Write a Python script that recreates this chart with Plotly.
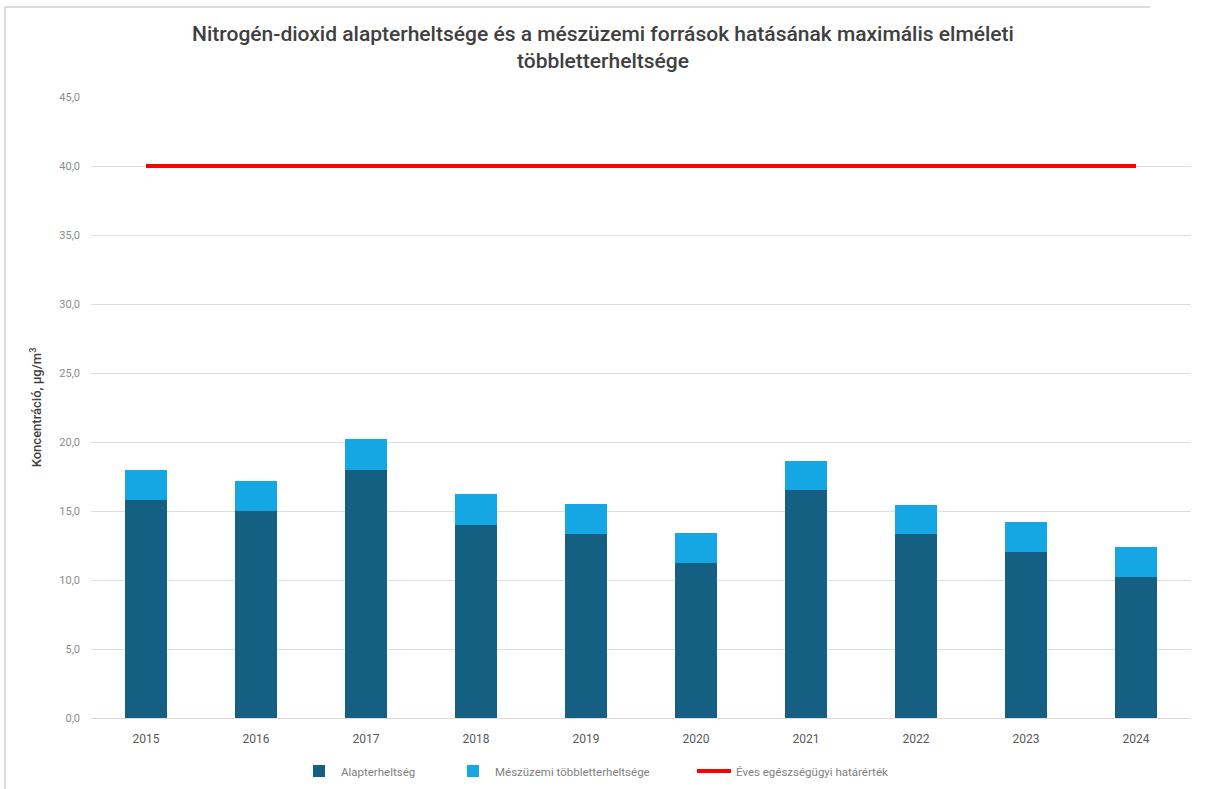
import plotly.graph_objects as go

# Évek és koncentrációk (µg/m³)
years = ["2015", "2016", "2017", "2018", "2019", "2020", "2021", "2022", "2023", "2024"]
alapterheltseg = [15.8, 15.0, 18.0, 14.0, 13.3, 11.2, 16.5, 13.3, 12.0, 10.2]
tobbletterheltseg = [2.2, 2.2, 2.2, 2.2, 2.2, 2.2, 2.1, 2.1, 2.2, 2.2]
hatarertek = [40.0] * len(years)

y_ticks = [0, 5, 10, 15, 20, 25, 30, 35, 40, 45]
y_ticktext = ["0,0", "5,0", "10,0", "15,0", "20,0", "25,0", "30,0", "35,0", "40,0", "45,0"]

W, H = 1206, 789
ML, MR, MT, MB = 91, 15, 97, 71

fig = go.Figure()

fig.add_trace(go.Bar(
    x=years, y=alapterheltseg, name="Alapterheltség",
    marker=dict(color="#145f82", line=dict(width=0)),
    legend="legend", showlegend=True,
))
fig.add_trace(go.Bar(
    x=years, y=tobbletterheltseg, name="Mészüzemi többletterheltsége",
    marker=dict(color="#14a7e4", line=dict(width=0)),
    legend="legend2", showlegend=True,
))
fig.add_trace(go.Scatter(
    x=years, y=hatarertek, name="Éves egészségügyi határérték",
    mode="lines", line=dict(color="#ff0000", width=4),
    legend="legend3", showlegend=True,
))

def px_to_paper_x(px):
    return (px - ML) / (W - ML - MR)

def px_to_paper_y(py):
    return (H - MB - py) / (H - MT - MB)

def legend_at(px):
    return dict(
        orientation="h", x=px_to_paper_x(px), xanchor="left",
        y=px_to_paper_y(771), yanchor="middle",
        font=dict(size=11.5, color="#7f7f7f"),
        itemwidth=34, bgcolor="rgba(0,0,0,0)",
        visible=True,
    )

fig.update_layout(
    width=W, height=H,
    margin=dict(l=ML, r=MR, t=MT, b=MB, autoexpand=False),
    showlegend=True,
    barmode="stack",
    bargap=0.62,
    plot_bgcolor="white",
    paper_bgcolor="white",
    font=dict(family="Roboto, sans-serif", color="#595959"),
    title=dict(
        text="Nitrogén-dioxid alapterheltsége és a mészüzemi források hatásának maximális elméleti<br>többletterheltsége",
        x=0.5, xanchor="center", y=1 - 41 / H, yanchor="middle",
        font=dict(size=21, color="#404040", family="Roboto, sans-serif", weight=500),
    ),
    xaxis=dict(
        showgrid=False, showline=False, zeroline=False,
        tickfont=dict(size=12, color="#595959"),
        ticks="", ticklabelstandoff=12,
    ),
    yaxis=dict(
        range=[0, 45], tickvals=y_ticks, ticktext=y_ticktext,
        showgrid=True, gridcolor="#dedede", gridwidth=1,
        zeroline=True, zerolinecolor="#e8d6d6", zerolinewidth=1,
        showline=False, ticks="",
        tickfont=dict(size=11, color="#8c8c8c"),
        ticklabelstandoff=10,
        title=dict(text="Koncentráció, µg/m<sup>3</sup>", standoff=14,
                   font=dict(size=13, color="#404040", weight=500)),
    ),
    legend=legend_at(297),
    legend2=legend_at(451),
    legend3=legend_at(692),
    shapes=[
        dict(type="line", xref="paper", yref="paper",
             x0=px_to_paper_x(5), x1=px_to_paper_x(1150),
             y0=px_to_paper_y(7), y1=px_to_paper_y(7),
             line=dict(color="#d0d0d0", width=1.5)),
        dict(type="line", xref="paper", yref="paper",
             x0=px_to_paper_x(5), x1=px_to_paper_x(5),
             y0=px_to_paper_y(7), y1=px_to_paper_y(789),
             line=dict(color="#d0d0d0", width=1.5)),
    ],
)

fig.write_html("out.html")
